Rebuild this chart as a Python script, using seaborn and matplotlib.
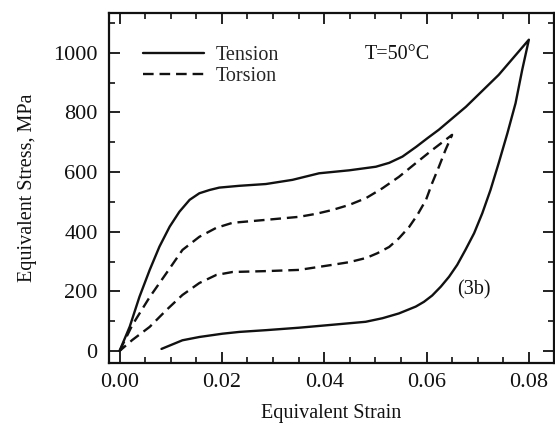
"""
Equivalent stress-strain loops, tension vs torsion at T=50 C
"""

import pandas as pd
import matplotlib
matplotlib.use("Agg")
import matplotlib.pyplot as plt
from matplotlib.ticker import MultipleLocator, FormatStrFormatter
import seaborn as sns

sns.set_theme(style="ticks")
plt.rcParams["font.family"] = ["Liberation Serif", "DejaVu Serif"]

# -------------------------------------------------------
# Data
# -------------------------------------------------------

tension_load_strain = [0.000, 0.0020, 0.0039, 0.0059, 0.0078, 0.0098, 0.0117, 0.0137,
                       0.0156, 0.0176, 0.0195, 0.0234, 0.0286, 0.0338, 0.039, 0.0449,
                       0.0501, 0.0527, 0.0553, 0.058, 0.0602, 0.0624, 0.0677, 0.0741,
                       0.080]
tension_load_stress = [0, 82, 182, 272, 350, 417, 467, 507,
                       529, 540, 548, 554, 560, 574, 596, 606,
                       618, 631, 652, 685, 714, 742, 819, 926,
                       1044]

tension_unload_strain = [0.0787, 0.0774, 0.0758, 0.0741, 0.0725, 0.0709, 0.0693, 0.0676,
                         0.066, 0.0644, 0.0628, 0.0611, 0.0595, 0.0579, 0.0546, 0.0514,
                         0.0481, 0.0416, 0.035, 0.0287, 0.0234, 0.0201, 0.0156, 0.0123,
                         0.0082]
tension_unload_stress = [943, 831, 730, 630, 540, 462, 395, 339,
                         289, 249, 216, 186, 165, 149, 126, 110,
                         98, 88, 78, 70, 64, 58, 47, 36,
                         7]

torsion_load_strain = [0.000, 0.0025, 0.0059, 0.0092, 0.0123, 0.0156, 0.0189, 0.0221,
                       0.0287, 0.0351, 0.0384, 0.0416, 0.0449, 0.0482, 0.0514, 0.0546,
                       0.0579, 0.0611, 0.065]
torsion_load_stress = [0, 87, 181, 262, 339, 383, 413, 430,
                       440, 450, 460, 473, 490, 513, 546, 584,
                       630, 674, 725]

torsion_unload_strain = [0.0637, 0.0624, 0.0611, 0.0599, 0.0582, 0.0566, 0.0546, 0.0527,
                         0.0504, 0.0482, 0.0449, 0.0416, 0.0351, 0.0287, 0.0221, 0.0189,
                         0.0156, 0.0123, 0.0092, 0.0059, 0.0025, 0.000]
torsion_unload_stress = [674, 617, 563, 507, 456, 416, 378, 349,
                         328, 312, 298, 289, 272, 268, 265, 255,
                         228, 188, 138, 81, 37, 0]

tension = pd.DataFrame({
    "strain": tension_load_strain + tension_unload_strain,
    "stress": tension_load_stress + tension_unload_stress,
    "Test": "Tension",
})
torsion = pd.DataFrame({
    "strain": torsion_load_strain + torsion_unload_strain,
    "stress": torsion_load_stress + torsion_unload_stress,
    "Test": "Torsion",
})
df = pd.concat([tension, torsion], ignore_index=True)

# -------------------------------------------------------
# Plot
# -------------------------------------------------------

fig = plt.figure(figsize=(5.55, 4.29), dpi=100)
fig.subplots_adjust(left=0.196, right=0.999, bottom=0.154, top=0.970)
ax = fig.add_subplot(111)

sns.lineplot(
    data=df, x="strain", y="stress", style="Test",
    dashes={"Tension": "", "Torsion": (4.5, 2.5)},
    sort=False, estimator=None, color="#111111", linewidth=1.7, ax=ax,
)

ax.set_xlim(-0.0021, 0.0850)
ax.set_ylim(-40, 1134)
ax.xaxis.set_major_locator(MultipleLocator(0.02))
ax.xaxis.set_minor_locator(MultipleLocator(0.005))
ax.xaxis.set_major_formatter(FormatStrFormatter("%.2f"))
ax.yaxis.set_major_locator(MultipleLocator(200))
ax.yaxis.set_minor_locator(MultipleLocator(100))

ax.tick_params(which="both", direction="in", top=True, right=True,
               color="#111111", labelsize=16, labelcolor="#111111")
ax.tick_params(which="major", length=8, width=1.3)
ax.tick_params(axis="y", which="major", pad=8)
ax.tick_params(axis="x", which="major", pad=7)
ax.tick_params(which="minor", length=4, width=1.2)
for spine in ax.spines.values():
    spine.set_linewidth(1.6)
    spine.set_color("#111111")

ax.set_xlabel("Equivalent Strain", fontsize=14.5, color="#111111", labelpad=9)
ax.set_ylabel("Equivalent Stress, MPa", fontsize=14.5, color="#111111", labelpad=12)

handles, labels = ax.get_legend_handles_labels()
ax.legend(handles, labels, loc="upper left", bbox_to_anchor=(0.05, 0.94),
          frameon=False, fontsize=14.5, handlelength=3.0, handletextpad=0.6,
          labelspacing=0.1, borderaxespad=0.2)

ax.text(0.0543, 993, "T=50°C", fontsize=14.5, ha="center", va="center", color="#111111")
ax.text(0.0693, 205, "(3b)", fontsize=14.5, ha="center", va="center", color="#111111")

fig.savefig("out.png", dpi=100)
